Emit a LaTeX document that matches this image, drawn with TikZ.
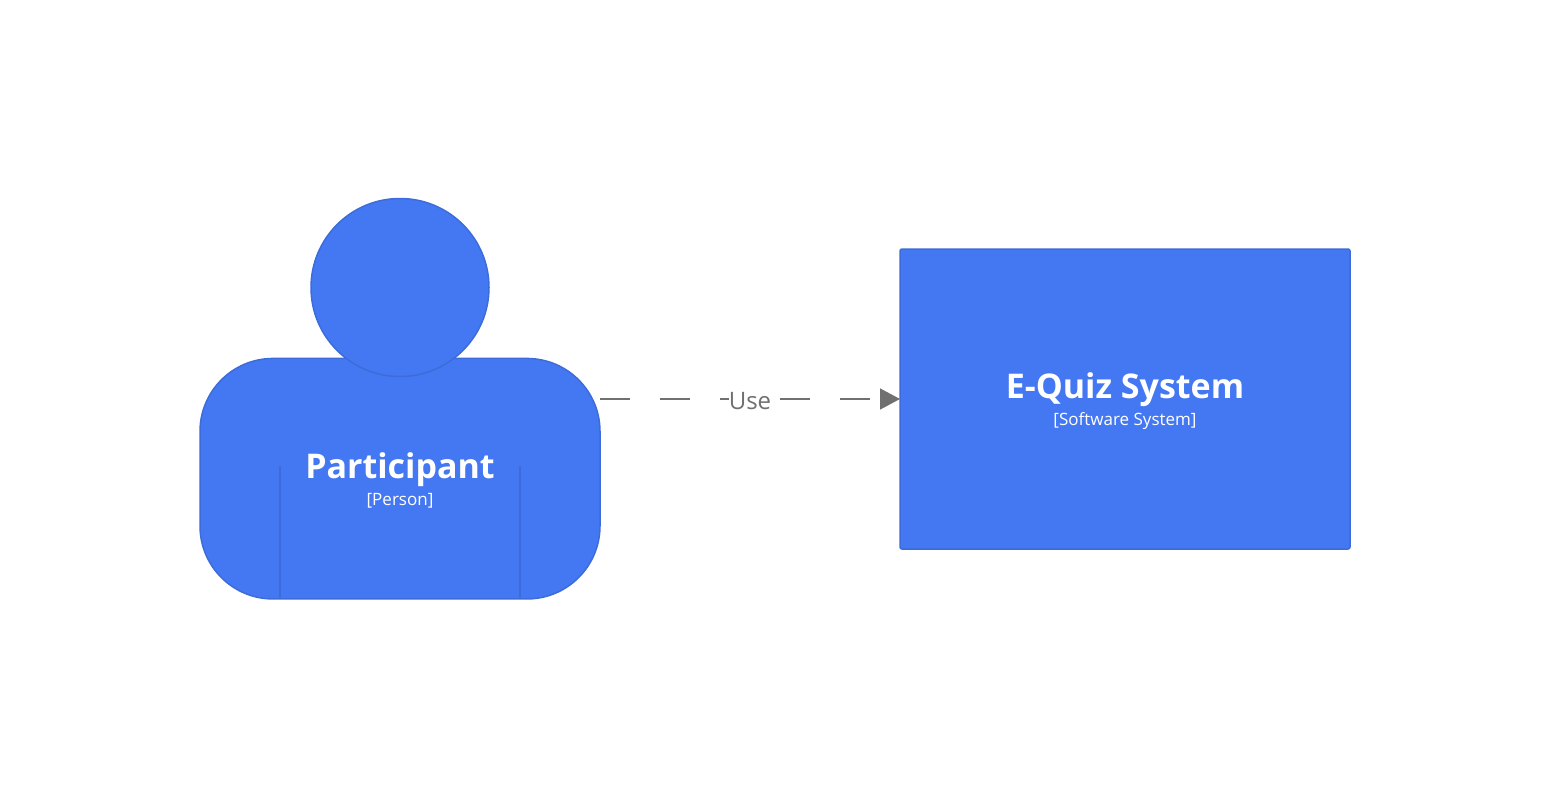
\documentclass[tikz,border=0pt]{standalone}
\usepackage{fontspec}
\setmainfont{Open Sans}
\usetikzlibrary{arrows.meta}
\definecolor{fillblue}{HTML}{4478F3}
\definecolor{edgeblue}{HTML}{3D6CDA}
\definecolor{linkgray}{HTML}{707070}
\tikzset{
  x=1pt,y=-1pt,
  shapebox/.style={draw=edgeblue,fill=fillblue,line width=1.5pt,outer sep=0pt,inner sep=0pt},
  titletext/.style={text=white,font=\fontsize{34}{38}\selectfont\bfseries,inner sep=0pt},
  kindtext/.style={text=white,font=\fontsize{17}{20}\selectfont,inner sep=0pt},
  seam/.style={draw=edgeblue,line width=1.5pt},
  link/.style={draw=linkgray,line width=1.5pt,dash pattern=on 30pt off 30pt,-{Triangle[length=20pt,width=21pt,fill=linkgray]}},
  linklabel/.style={fill=white,text=linkgray,font=\fontsize{24}{28}\selectfont,inner xsep=0pt,inner ysep=2pt,minimum width=42pt}
}
\begin{document}
\begin{tikzpicture}
\useasboundingbox (0,0) rectangle (1550,800);
\node[shapebox,rectangle,rounded corners=73pt,minimum width=400pt,minimum height=240.5pt] (body) at (400,478.7) {};
\coordinate (seamLtop) at (280,466);
\coordinate (seamRtop) at (520,466);
\draw[seam] (seamLtop) -- (seamLtop |- body.south);
\draw[seam] (seamRtop) -- (seamRtop |- body.south);
\node[shapebox,circle,minimum size=178pt] (head) at (400,287.5) {};
\node[shapebox,rectangle,rounded corners=2pt,minimum width=450pt,minimum height=300pt] (system) at (1125,399) {};
\node[titletext] (ptitle) at (400,470) {Participant};
\node[kindtext] (pkind) at (400,501) {[Person]};
\node[titletext] (stitle) at (1125,390) {E-Quiz System};
\node[kindtext] (skind) at (1125,421) {[Software System]};
\draw[link] (body.east |- system.west) -- (system.west) node[linklabel,pos=0.5,yshift=-2pt] (uselabel) {Use};
\end{tikzpicture}
\end{document}
